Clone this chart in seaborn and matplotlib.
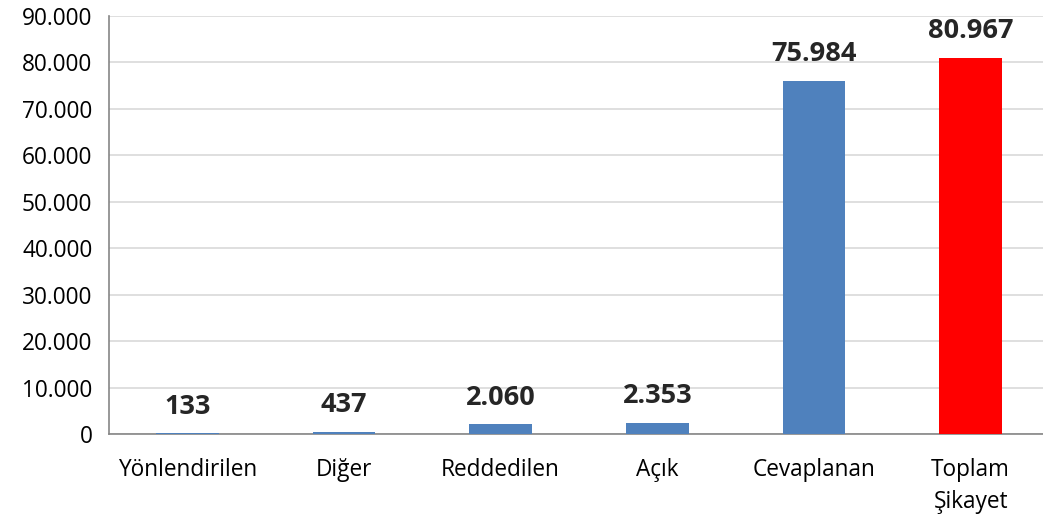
import matplotlib
matplotlib.use("Agg")
import matplotlib.pyplot as plt
import seaborn as sns
import pandas as pd
from matplotlib.ticker import FuncFormatter

categories = ["Yönlendirilen", "Diğer", "Reddedilen", "Açık", "Cevaplanan", "Toplam\nŞikayet"]
values = [133, 437, 2060, 2353, 75984, 80967]
colors = ["#4f81bd", "#4f81bd", "#4f81bd", "#4f81bd", "#4f81bd", "#ff0000"]
yticks = [0, 10000, 20000, 30000, 40000, 50000, 60000, 70000, 80000, 90000]

df = pd.DataFrame({"kategori": categories, "adet": values})

sns.set_style("white")
plt.rcParams["font.family"] = ["Open Sans", "DejaVu Sans"]


def tr_fmt(v, pos=None):
    return f"{int(v):,}".replace(",", ".")


fig = plt.figure(figsize=(10.43, 5.17), dpi=100)
ax = fig.add_axes([109 / 1043, 0.1605, 940 / 1043, 0.809])

sns.barplot(data=df, x="kategori", y="adet", hue="kategori",
            palette=colors, legend=False, width=0.4, saturation=1,
            edgecolor="none", linewidth=0, ax=ax, zorder=3)

ax.set_ylim(0, 90000)
ax.set_yticks(yticks)
ax.yaxis.set_major_formatter(FuncFormatter(tr_fmt))
ax.set_xlim(-0.5, 5.5)
ax.grid(axis="y", color="#d9d9d9", linewidth=1.2, zorder=0)
ax.set_axisbelow(True)
ax.set_xlabel("")
ax.set_ylabel("")
ax.tick_params(axis="both", length=0, labelsize=16.3, colors="black")
ax.tick_params(axis="x", pad=17)
ax.tick_params(axis="y", pad=12)
for lbl in ax.get_xticklabels():
    lbl.set_linespacing(1.45)
for s in ["top", "right"]:
    ax.spines[s].set_visible(False)
for s in ["left", "bottom"]:
    ax.spines[s].set_color("#868686")
    ax.spines[s].set_linewidth(1.2)

for i, v in enumerate(values):
    ax.annotate(tr_fmt(v), (i, v), xytext=(0, 10), textcoords="offset points",
                ha="center", va="bottom", fontsize=19.5, fontweight="bold")

fig.savefig("out.png", dpi=100)
